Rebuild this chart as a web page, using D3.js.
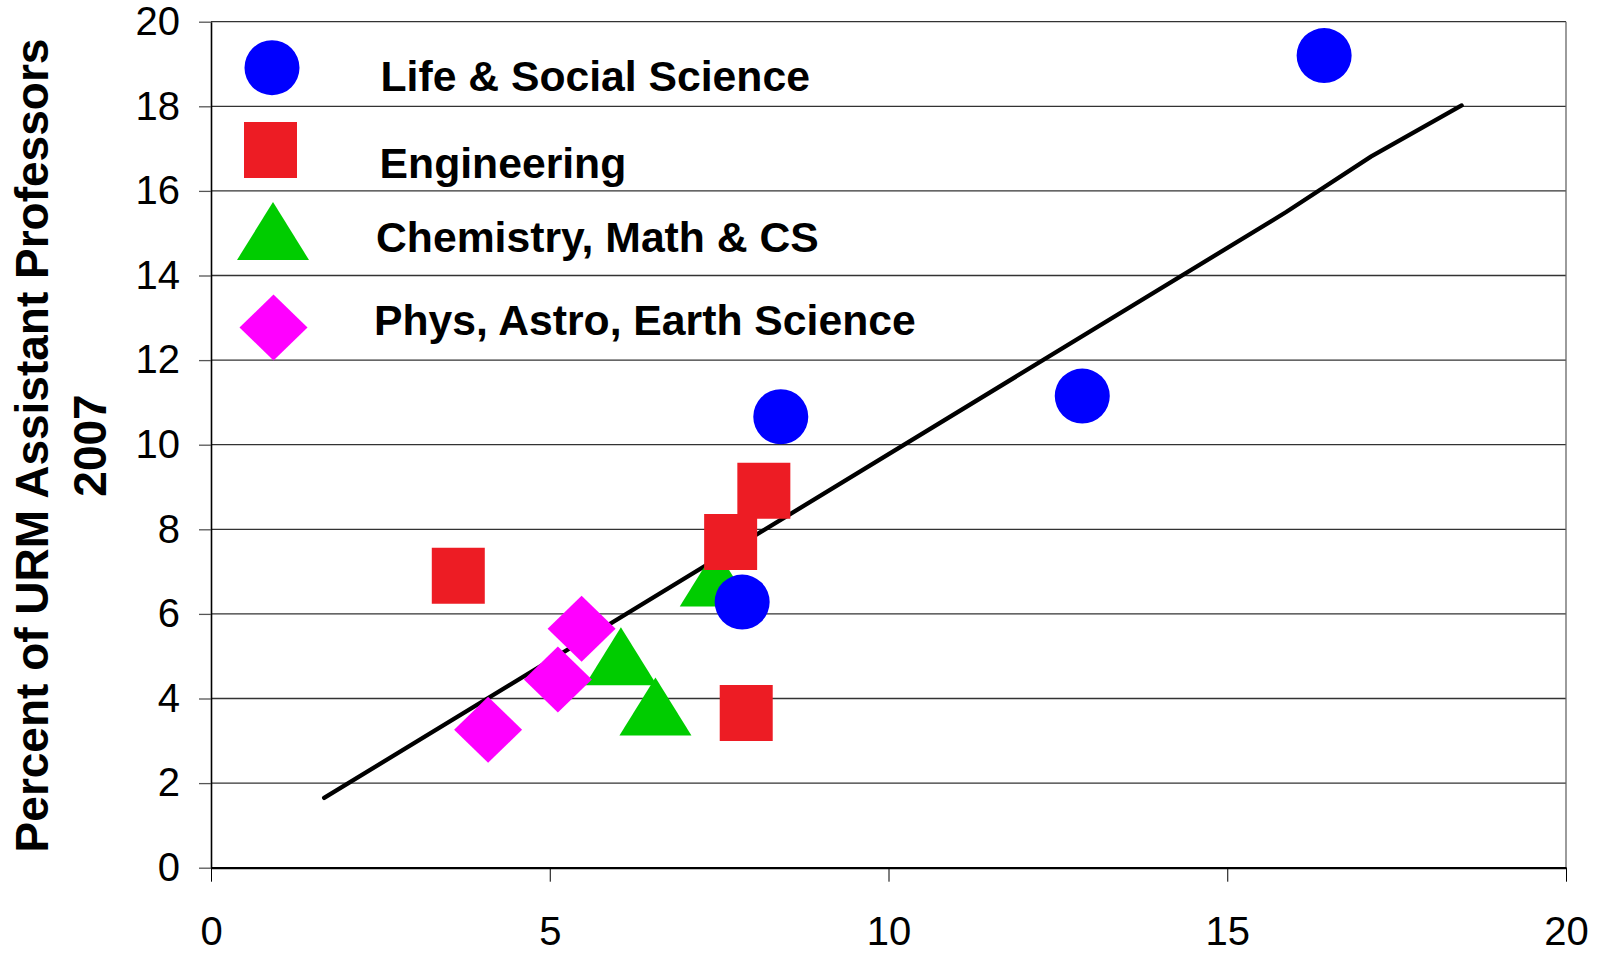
<!DOCTYPE html>
<html>
<head>
<meta charset="utf-8">
<script src="https://cdn.jsdelivr.net/npm/d3@7"></script>
<style>
  body { margin: 0; background: #fff; }
  svg { display: block; font-family: "Liberation Sans", Arial, sans-serif; }
  .tick text { font-size: 40px; fill: #000; }
</style>
</head>
<body>
<div id="chart"></div>
<script>
// values
var xTicks = [0, 5, 10, 15, 20];
var yTicks = [0, 2, 4, 6, 8, 10, 12, 14, 16, 18, 20];

var lifeX = [16.43, 12.86, 8.41, 7.84];
var lifeY = [19.2, 11.15, 10.66, 6.28];

var engX = [3.65, 8.16, 7.67, 7.90];
var engY = [6.90, 8.91, 7.70, 3.66];

var chemX = [6.05, 6.56, 7.45];
var chemY = [5.0, 3.81, 6.86];

var physX = [5.47, 5.12, 4.09];
var physY = [5.65, 4.45, 3.26];

var trendX = [1.67, 15.87, 17.12, 18.46];
var trendY = [1.65, 15.5, 16.81, 18.02];

var seriesNames = ["Life & Social Science", "Engineering", "Chemistry, Math & CS", "Phys, Astro, Earth Science"];
var titleLines = ["Percent of URM Assistant Professors", "2007"];

// layout
var margin = { top: 21.7, right: 34, bottom: 85.3, left: 211 },
    width = 1600 - margin.left - margin.right,
    height = 953 - margin.top - margin.bottom;

var colors = ["#0000ff", "#ed1c24", "#00cc00", "#ff00ff"];

// marker shapes (centred on 0,0)
function circlePath() { return d3.arc()({ innerRadius: 0, outerRadius: 27.5, startAngle: 0, endAngle: 2 * Math.PI }); }
function squarePath() { return "M-26.5,-28H26.5V28H-26.5Z"; }
function trianglePath() { return "M0,-29L36,29L-36,29Z"; }
function diamondPath() { return "M0,-33L34,0L0,33L-34,0Z"; }
var shapes = [circlePath, squarePath, trianglePath, diamondPath];

var svg = d3.select("#chart").append("svg")
    .attr("width", 1600)
    .attr("height", 953);

var g = svg.append("g")
    .attr("transform", "translate(" + margin.left + "," + margin.top + ")");

var x = d3.scaleLinear().domain([0, 20]).range([0, width]);
var y = d3.scaleLinear().domain([0, 20]).range([height, 0]);

// gridlines
g.selectAll(".grid")
    .data(yTicks.filter(function(d) { return d > 0; }))
    .enter().append("line")
    .attr("class", "grid")
    .attr("x1", 0).attr("x2", width)
    .attr("y1", function(d) { return y(d); })
    .attr("y2", function(d) { return y(d); })
    .attr("stroke", "#333")
    .attr("stroke-width", 1.3);

// right border
g.append("line")
    .attr("x1", width).attr("x2", width)
    .attr("y1", 0).attr("y2", height)
    .attr("stroke", "#666").attr("stroke-width", 1.3);

// axes
var yAxis = g.append("g")
    .call(d3.axisLeft(y).tickValues(yTicks).tickSize(12).tickPadding(19).tickSizeOuter(0));
var xAxis = g.append("g")
    .attr("transform", "translate(0," + height + ")")
    .call(d3.axisBottom(x).tickValues(xTicks).tickSize(14).tickPadding(35).tickSizeOuter(0));

yAxis.select(".domain").attr("stroke", "#000").attr("stroke-width", 1.6);
yAxis.selectAll(".tick line").attr("stroke", "#555").attr("stroke-width", 1.3);
xAxis.select(".domain").attr("stroke", "#000").attr("stroke-width", 2.2);
xAxis.selectAll(".tick line").attr("stroke", "#000").attr("stroke-width", 1);

// trend line
var trend = trendX.map(function(d, i) { return [d, trendY[i]]; });
g.append("path")
    .datum(trend)
    .attr("fill", "none")
    .attr("stroke", "#000")
    .attr("stroke-width", 4.3)
    .attr("stroke-linecap", "round")
    .attr("d", d3.line().x(function(d) { return x(d[0]); }).y(function(d) { return y(d[1]); }));

// markers, drawn so that circles and squares sit on top
var series = [
  { xs: chemX, ys: chemY, k: 2 },
  { xs: physX, ys: physY, k: 3 },
  { xs: engX, ys: engY, k: 1 },
  { xs: lifeX, ys: lifeY, k: 0 }
];

series.forEach(function(s) {
  var pts = s.xs.map(function(d, i) { return [d, s.ys[i]]; });
  g.selectAll(".m" + s.k)
      .data(pts)
      .enter().append("path")
      .attr("class", "m" + s.k)
      .attr("transform", function(d) { return "translate(" + x(d[0]) + "," + y(d[1]) + ")"; })
      .attr("d", shapes[s.k]())
      .attr("fill", colors[s.k]);
});

// legend (pixel layout inside the plot)
var legendMarkerY = [67.7, 150, 231, 327.5];
var legendMarkerX = [272, 270.5, 273, 273.5];
var legendTextX = [380.5, 379.6, 376, 374];
var legendTextY = [90.7, 178, 251.7, 335];

var legend = svg.append("g");
seriesNames.forEach(function(name, i) {
  legend.append("path")
      .attr("transform", "translate(" + legendMarkerX[i] + "," + legendMarkerY[i] + ")")
      .attr("d", shapes[i]())
      .attr("fill", colors[i]);
  legend.append("text")
      .attr("x", legendTextX[i])
      .attr("y", legendTextY[i])
      .style("font-size", "42.7px")
      .style("font-weight", "bold")
      .text(name);
});

// y axis title
var title = svg.append("text")
    .attr("transform", "translate(48,445.5) rotate(-90)")
    .attr("text-anchor", "middle")
    .style("font-size", "46px")
    .style("font-weight", "bold");
title.append("tspan").attr("x", 0).attr("y", 0).text(titleLines[0]);
title.append("tspan").attr("x", 0).attr("y", 58).text(titleLines[1]);
</script>
</body>
</html>
